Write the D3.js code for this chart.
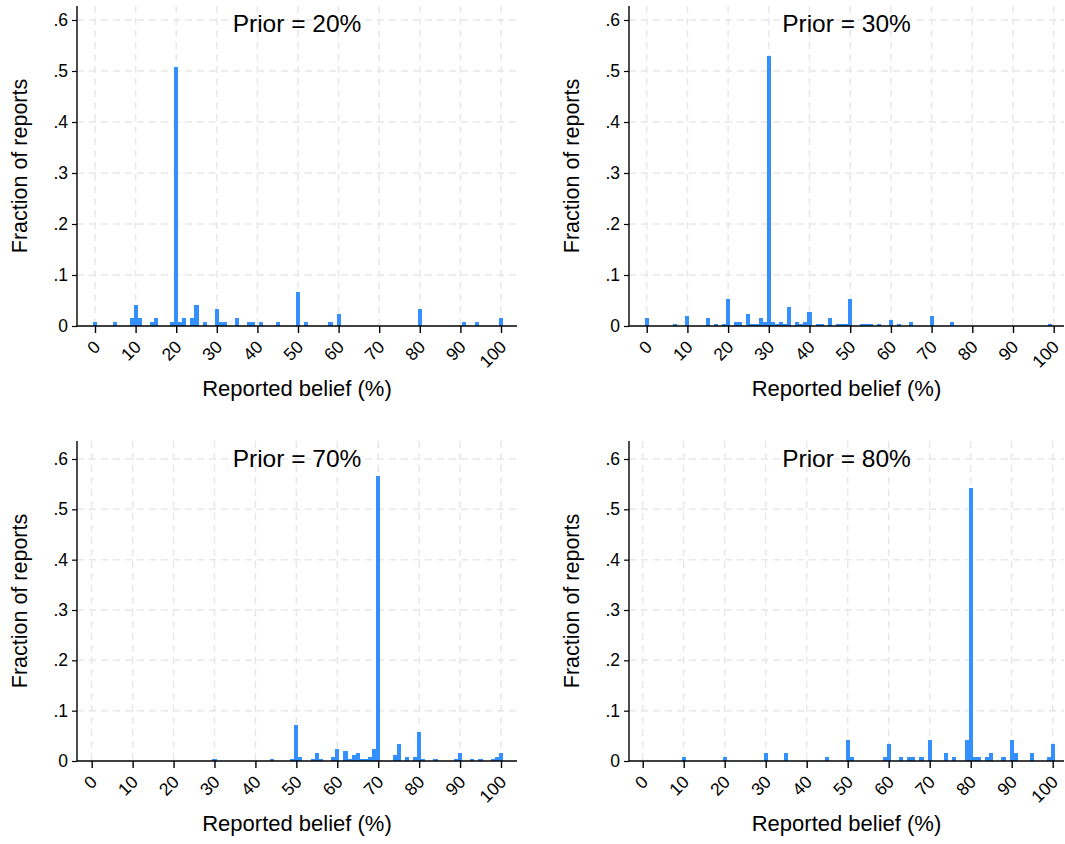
<!DOCTYPE html>
<html>
<head>
<meta charset="utf-8">
<script src="https://cdn.jsdelivr.net/npm/d3@7"></script>
<style>
  body { margin: 0; background: #fff; }
  svg text { font-family: Arial, "Liberation Sans", sans-serif; fill: #000; }
</style>
</head>
<body>
<div id="chart"></div>
<script>
// Reported beliefs (%) and fraction of reports, one pair of arrays per prior
const priors = [20, 30, 70, 80];

const beliefs20 = [0, 5, 9, 10, 11, 14, 15, 19, 20, 21, 22, 24, 25, 27, 30, 31, 32, 35, 38, 39, 41, 45, 50, 52, 58, 60, 80, 91, 94, 100];
const frac20 = [.008, .008, .016, .041, .016, .008, .016, .008, .508, .008, .016, .016, .041, .008, .033, .008, .008, .016, .008, .008, .008, .008, .067, .008, .008, .024, .033, .008, .008, .016];

const beliefs30 = [0, 7, 10, 15, 17, 19, 20, 22, 23, 25, 26, 27, 28, 29, 30, 31, 32, 33, 34, 35, 37, 38, 39, 40, 42, 43, 45, 47, 48, 49, 50, 53, 54, 55, 57, 60, 62, 65, 70, 75, 99];
const frac30 = [.016, .004, .020, .016, .004, .004, .053, .008, .008, .024, .004, .004, .016, .008, .530, .008, .004, .008, .004, .037, .008, .004, .008, .027, .004, .004, .016, .004, .004, .004, .053, .004, .004, .004, .004, .012, .004, .008, .020, .008, .004];

const beliefs70 = [30, 44, 49, 50, 51, 54, 55, 56, 59, 60, 62, 63, 64, 65, 66, 67, 68, 69, 70, 74, 75, 77, 79, 80, 81, 84, 89, 90, 93, 95, 98, 99, 100];
const frac70 = [.004, .004, .004, .072, .008, .004, .016, .004, .008, .024, .020, .004, .012, .016, .004, .004, .008, .024, .567, .012, .034, .008, .008, .058, .004, .004, .004, .016, .004, .004, .004, .008, .016];

const beliefs80 = [10, 20, 30, 35, 45, 50, 51, 59, 60, 63, 65, 66, 68, 70, 74, 76, 79, 80, 81, 82, 84, 85, 88, 90, 91, 95, 99, 100];
const frac80 = [.008, .008, .016, .016, .008, .042, .008, .008, .034, .008, .008, .008, .008, .042, .016, .008, .042, .542, .008, .008, .008, .016, .008, .042, .016, .016, .008, .034];

const xTicks = [0, 10, 20, 30, 40, 50, 60, 70, 80, 90, 100];
const yTicks = [0, .1, .2, .3, .4, .5, .6];
const yTickLabels = ['0', '.1', '.2', '.3', '.4', '.5', '.6'];

const beliefs = [beliefs20, beliefs30, beliefs70, beliefs80];
const fracs = [frac20, frac30, frac70, frac80];

// Panel geometry (pixels): plot box, and where 0/100 and 0/.6 land
const panels = [
  { left: 77, right: 517, top: 6, x0: 95, x100: 501, y0: 326, y6: 20 },
  { left: 629, right: 1064, top: 6, x0: 646.7, x100: 1053.7, y0: 326, y6: 20 },
  { left: 77, right: 517, top: 441, x0: 91.7, x100: 501, y0: 761, y6: 459 },
  { left: 629, right: 1064, top: 441, x0: 642.7, x100: 1052.7, y0: 761, y6: 459 }
];

const w = 1065;
const h = 844;
const barColor = '#3590ff';
const gridColor = '#e8e8e8';

const svg = d3.select('#chart')
  .append('svg')
  .attr('width', w)
  .attr('height', h);

panels.forEach((p, k) => {
  const xscale = d3.scaleLinear().domain([0, 100]).range([p.x0, p.x100]);
  const yscale = d3.scaleLinear().domain([0, .6]).range([p.y0, p.y6]);
  const g = svg.append('g');

  // Dashed grid
  g.selectAll('.vgrid')
    .data(xTicks)
    .enter()
    .append('line')
    .attr('x1', (d) => xscale(d))
    .attr('x2', (d) => xscale(d))
    .attr('y1', p.top)
    .attr('y2', p.y0)
    .attr('stroke', gridColor)
    .attr('stroke-width', 1.5)
    .attr('stroke-dasharray', '7,5');

  g.selectAll('.hgrid')
    .data(yTicks.slice(1))
    .enter()
    .append('line')
    .attr('x1', p.left)
    .attr('x2', p.right)
    .attr('y1', (d) => yscale(d))
    .attr('y2', (d) => yscale(d))
    .attr('stroke', gridColor)
    .attr('stroke-width', 1.5)
    .attr('stroke-dasharray', '7,5');

  // Bars, width of one percentage point centred on each value
  const data = beliefs[k].map((b, i) => [b, fracs[k][i]]);
  g.selectAll('rect')
    .data(data)
    .enter()
    .append('rect')
    .attr('x', (d) => xscale(d[0] - 0.5))
    .attr('width', xscale(1) - xscale(0))
    .attr('y', (d) => yscale(d[1]))
    .attr('height', (d) => yscale(0) - yscale(d[1]))
    .attr('fill', barColor)
    .attr('shape-rendering', 'crispEdges');

  // Axes
  const yAxis = d3.axisLeft(yscale)
    .tickValues(yTicks)
    .tickFormat((d, i) => yTickLabels[i])
    .tickSize(5)
    .tickPadding(4);
  const ya = g.append('g')
    .attr('transform', 'translate(' + p.left + ', 0)')
    .call(yAxis);
  ya.select('.domain').remove();
  ya.selectAll('line').attr('stroke', '#000').attr('stroke-width', 1.2);
  ya.selectAll('text').style('font-size', '17.5px');
  g.append('line')
    .attr('x1', p.left).attr('x2', p.left)
    .attr('y1', p.top).attr('y2', p.y0)
    .attr('stroke', '#000').attr('stroke-width', 1.4);

  const xAxis = d3.axisBottom(xscale)
    .tickValues(xTicks)
    .tickSize(7)
    .tickFormat((d) => d.toString());
  const xa = g.append('g')
    .attr('transform', 'translate(0, ' + p.y0 + ')')
    .call(xAxis);
  xa.select('.domain').remove();
  xa.selectAll('line').attr('stroke', '#000').attr('stroke-width', 1.4);
  xa.selectAll('text')
    .style('font-size', '17.5px')
    .attr('text-anchor', 'end')
    .attr('dy', null)
    .attr('y', 0)
    .attr('transform', 'translate(6, 22) rotate(-45)');
  g.append('line')
    .attr('x1', p.left).attr('x2', p.right)
    .attr('y1', p.y0).attr('y2', p.y0)
    .attr('stroke', '#000').attr('stroke-width', 1.4);

  // Titles and labels
  const cx = (p.left + p.right) / 2;
  g.append('text')
    .attr('x', cx)
    .attr('y', p.top + 26)
    .attr('text-anchor', 'middle')
    .style('font-size', '24.5px')
    .text('Prior = ' + priors[k] + '%');

  g.append('text')
    .attr('x', cx)
    .attr('y', p.y0 + 70)
    .attr('text-anchor', 'middle')
    .style('font-size', '22px')
    .text('Reported belief (%)');

  g.append('text')
    .attr('transform', 'translate(' + (p.left - 50) + ', ' + (p.y0 + p.top) / 2 + ') rotate(-90)')
    .attr('text-anchor', 'middle')
    .style('font-size', '21.5px')
    .text('Fraction of reports');
});
</script>
</body>
</html>
